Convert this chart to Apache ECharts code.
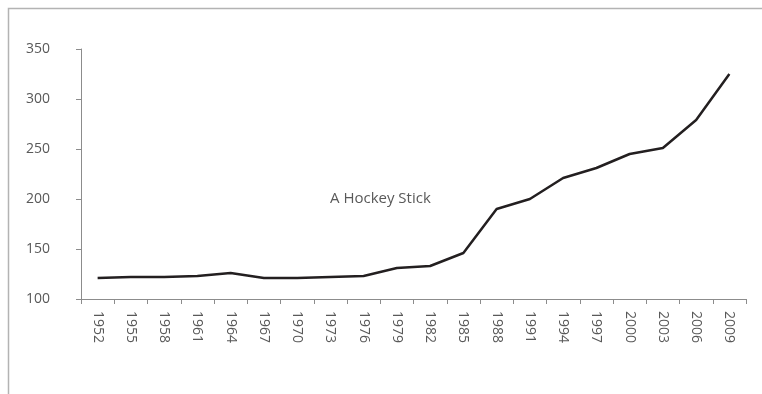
<!DOCTYPE html>
<html>
<head>
<meta charset="utf-8">
<script src="https://cdn.jsdelivr.net/npm/echarts@6/dist/echarts.min.js"></script>
<style>
	html, body { margin: 0; padding: 0; background: #fff; }
	#chart { width: 762px; height: 394px; }
</style>
</head>
<body>
<div id="chart"></div>
<script>
// 数据
var years = ['1952', '1955', '1958', '1961', '1964', '1967', '1970', '1973', '1976', '1979',
	'1982', '1985', '1988', '1991', '1994', '1997', '2000', '2003', '2006', '2009'];
var values = [121, 122, 122, 123, 126, 121, 121, 122, 123, 131,
	133, 146, 190, 200, 221, 231, 245, 251, 279, 325];
var chartTitle = 'A Hockey Stick';

var myChart = echarts.init(document.getElementById('chart'));
var labelColor = '#595959';
var axisColor = '#8c8c8c';
var font = '"Open Sans", sans-serif';

var option = {
	animation: false,
	backgroundColor: '#fff',
	title: {
		text: chartTitle,
		left: 325,
		top: 186,
		textStyle: {
			color: labelColor,
			fontSize: 15,
			fontWeight: 'normal',
			fontFamily: font
		}
	},
	// 外框
	graphic: [{
		type: 'rect',
		shape: { x: 8.5, y: 8.5, width: 900, height: 600 },
		style: { fill: 'none', stroke: '#b3b3b3', lineWidth: 1.5 },
		silent: true
	}],
	grid: {
		left: 81,
		right: 16,
		top: 49,
		bottom: 95
	},
	xAxis: {
		type: 'category',
		data: years,
		boundaryGap: true,
		axisLine: { lineStyle: { color: axisColor, width: 1 } },
		axisTick: { show: true, length: 5, lineStyle: { color: axisColor } },
		axisLabel: {
			rotate: -90,
			interval: 0,
			margin: 12,
			color: labelColor,
			fontSize: 14,
			fontFamily: font
		},
		splitLine: { show: false }
	},
	yAxis: {
		type: 'value',
		min: 100,
		max: 350,
		interval: 50,
		axisLine: { show: true, lineStyle: { color: axisColor, width: 1 } },
		axisTick: { show: true, inside: false, length: 5, lineStyle: { color: axisColor } },
		axisLabel: {
			margin: 31,
			color: labelColor,
			fontSize: 14,
			fontFamily: font
		},
		splitLine: { show: false }
	},
	series: [{
		type: 'line',
		data: values,
		symbol: 'none',
		lineStyle: { color: '#231f20', width: 2.5 }
	}]
};

myChart.setOption(option);
</script>
</body>
</html>
